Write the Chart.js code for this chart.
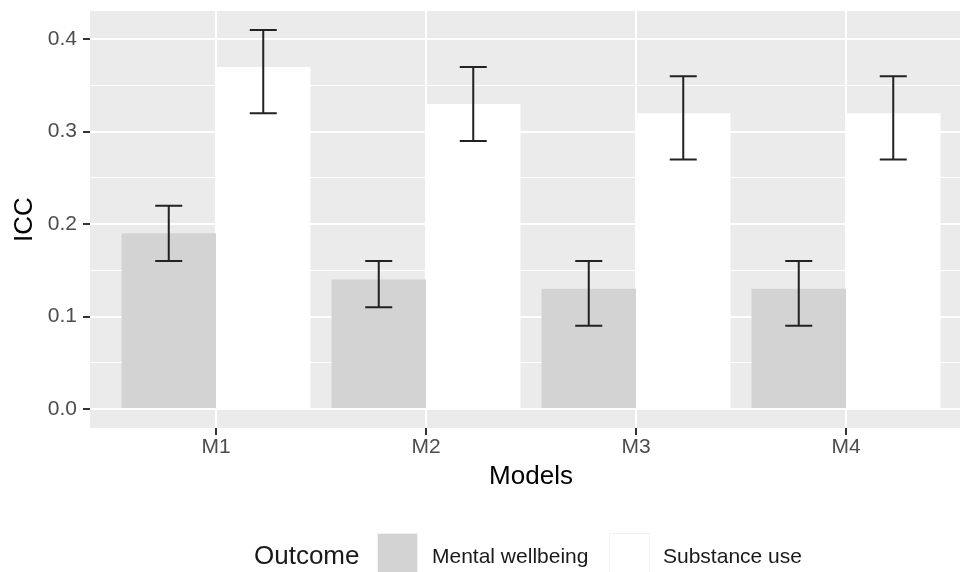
<!DOCTYPE html>
<html><head><meta charset="utf-8">
<script src="https://cdn.jsdelivr.net/npm/chart.js@4"></script>
<style>
html,body{margin:0;padding:0;background:#fff;overflow:hidden;width:960px;height:572px;}
#wrap{position:absolute;left:0;top:0;width:980px;height:572px;}
.lg{position:absolute;font-family:'Liberation Sans',Arial,sans-serif;white-space:nowrap;line-height:1;color:#1a1a1a;}
.key{position:absolute;width:41px;height:41px;background:#F2F2F2;}
.key i{position:absolute;left:1px;top:1px;right:1px;bottom:1px;}
</style></head><body>
<div id="wrap"><canvas id="c"></canvas></div>
<div id="legend"></div>
<script>
const categories = ['M1', 'M2', 'M3', 'M4'];
const seriesNames = ['Mental wellbeing', 'Substance use'];
const legendTitle = 'Outcome';
const mentalICC = [0.19, 0.14, 0.13, 0.13];
const mentalLow = [0.16, 0.11, 0.09, 0.09];
const mentalHigh = [0.22, 0.16, 0.16, 0.16];
const substanceICC = [0.37, 0.33, 0.32, 0.32];
const substanceLow = [0.32, 0.29, 0.27, 0.27];
const substanceHigh = [0.41, 0.37, 0.36, 0.36];
const seriesColors = ['#D3D3D3', '#FFFFFF'];

Chart.defaults.font.family = "'Liberation Sans', Arial, sans-serif";

function isMajor(v){ return Math.abs(v*10 - Math.round(v*10)) < 1e-6; }

const panelBg = {
  id: 'panelBg',
  beforeDraw(chart){
    const {ctx, chartArea:a} = chart;
    ctx.save(); ctx.fillStyle = '#EBEBEB';
    ctx.fillRect(a.left, a.top, a.right - a.left, a.bottom - a.top);
    ctx.restore();
  }
};
const errorBars = {
  id: 'errorBars',
  afterDatasetsDraw(chart){
    const ctx = chart.ctx, y = chart.scales.y;
    chart.data.datasets.forEach((ds, i) => {
      const meta = chart.getDatasetMeta(i);
      meta.data.forEach((bar, j) => {
        const lo = y.getPixelForValue(ds.errLow[j]);
        const hi = y.getPixelForValue(ds.errHigh[j]);
        const x = bar.x, hw = 13.5;
        ctx.save();
        ctx.strokeStyle = '#222'; ctx.lineWidth = 2; ctx.lineCap = 'butt';
        ctx.beginPath();
        ctx.moveTo(x, lo); ctx.lineTo(x, hi);
        ctx.moveTo(x - hw, lo); ctx.lineTo(x + hw, lo);
        ctx.moveTo(x - hw, hi); ctx.lineTo(x + hw, hi);
        ctx.stroke(); ctx.restore();
      });
    });
  }
};

const toPoints = arr => arr.map((v, k) => ({x: k + 1, y: v}));

new Chart(document.getElementById('c'), {
  type: 'bar',
  data: {
    datasets: [
      {label: seriesNames[0], data: toPoints(mentalICC), errLow: mentalLow, errHigh: mentalHigh,
       backgroundColor: seriesColors[0], borderWidth: 0, categoryPercentage: 0.9, barPercentage: 1.0},
      {label: seriesNames[1], data: toPoints(substanceICC), errLow: substanceLow, errHigh: substanceHigh,
       backgroundColor: seriesColors[1], borderWidth: 0, categoryPercentage: 0.9, barPercentage: 1.0}
    ]
  },
  options: {
    responsive: true, maintainAspectRatio: false, animation: false, devicePixelRatio: 1,
    layout: {padding: {left: 0, top: 11, right: 8, bottom: 80}},
    plugins: {legend: {display: false}, tooltip: {enabled: false}},
    scales: {
      x: {
        type: 'linear', min: 0.4, max: 4.6, offset: false,
        afterFit(s){ s.height = 64; s.paddingLeft = 0; s.paddingRight = 0; },
        ticks: {stepSize: 1, includeBounds: false, padding: 0, color: '#4D4D4D', font: {size: 21},
                maxRotation: 0, autoSkip: false,
                callback: v => categories[Math.round(v) - 1] ?? ''},
        grid: {color: '#FFFFFF', lineWidth: 2, tickLength: 7, tickColor: '#333', tickWidth: 2, offset: false},
        border: {display: false},
        title: {display: true, text: 'Models', color: '#000', font: {size: 26}, padding: {top: 0, bottom: 0}}
      },
      y: {
        min: -0.0205, max: 0.4305,
        afterFit(s){ s.width = 90; s.paddingTop = 0; s.paddingBottom = 0; },
        ticks: {stepSize: 0.05, includeBounds: false, padding: 6, color: '#4D4D4D', font: {size: 21},
                callback: v => isMajor(v) ? (Math.round(v*10)/10).toFixed(1) : ''},
        grid: {color: '#FFFFFF', tickLength: 7, tickWidth: 2,
               lineWidth: c => isMajor(c.tick.value) ? 2 : 1,
               tickColor: c => isMajor(c.tick.value) ? '#333' : 'rgba(0,0,0,0)'},
        border: {display: false},
        title: {display: true, text: 'ICC', color: '#000', font: {size: 26}, padding: {top: 9, bottom: 0}}
      }
    }
  },
  plugins: [panelBg, errorBars]
});

// legend (HTML text)
const lg = document.getElementById('legend');
function addText(txt, left, size){
  const d = document.createElement('div'); d.className = 'lg'; d.textContent = txt;
  d.style.left = left + 'px'; d.style.fontSize = size + 'px';
  d.style.top = (555 - size/2) + 'px';
  lg.appendChild(d);
}
function addKey(left, color){
  const k = document.createElement('div'); k.className = 'key';
  k.style.left = left + 'px'; k.style.top = '533px';
  const i = document.createElement('i'); i.style.background = color; k.appendChild(i);
  lg.appendChild(k);
}
addText(legendTitle, 254, 26);
addKey(377, seriesColors[0]);
addText(seriesNames[0], 432, 21);
addKey(609, seriesColors[1]);
addText(seriesNames[1], 663, 21);
</script>
</body></html>
